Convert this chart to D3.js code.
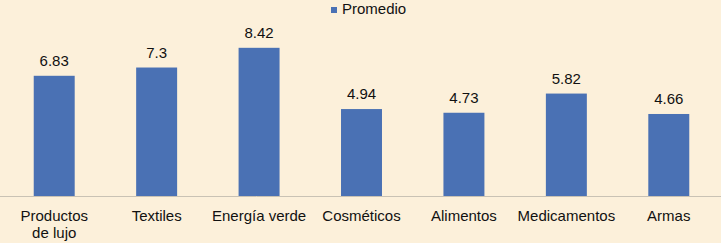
<!DOCTYPE html>
<html>
<head>
<meta charset="utf-8">
<script src="https://cdn.jsdelivr.net/npm/d3@7"></script>
<style>
  body { margin: 0; background: #fcf0da; }
  svg { display: block; font-family: "Liberation Sans", Arial, sans-serif; }
</style>
</head>
<body>
<div id="chart"></div>
<script>
// data
const categories = [["Productos", "de lujo"], ["Textiles"], ["Energía verde"], ["Cosméticos"], ["Alimentos"], ["Medicamentos"], ["Armas"]];
const promedio = [6.83, 7.3, 8.42, 4.94, 4.73, 5.82, 4.66];
const seriesName = "Promedio";

const width = 721;
const height = 243;
const baseline = 196;

const svg = d3.select("#chart")
    .append("svg")
    .attr("width", width)
    .attr("height", height);

svg.append("rect")
    .attr("width", width)
    .attr("height", height)
    .attr("fill", "#fcf0da");

const names = categories.map(c => c.join(" "));

const x = d3.scaleBand()
    .domain(names)
    .range([3, 720])
    .paddingInner(0.6)
    .paddingOuter(0.3);

const y = d3.scaleLinear()
    .domain([0, 10])
    .range([baseline, 20]);

// bars
svg.selectAll("rect.bar")
    .data(promedio)
    .enter()
    .append("rect")
    .attr("class", "bar")
    .attr("x", (d, i) => x(names[i]))
    .attr("y", d => y(d))
    .attr("width", x.bandwidth())
    .attr("height", d => baseline - y(d))
    .attr("fill", "#4a71b4");

// axis line
const xAxis = svg.append("g")
    .attr("transform", `translate(0, ${baseline})`)
    .call(d3.axisBottom(x).tickSize(0).tickFormat(""));
xAxis.select(".domain").attr("stroke", "#c9c2b4").attr("d", `M0,0.5H${width}`);

// value labels
svg.selectAll("text.value")
    .data(promedio)
    .enter()
    .append("text")
    .attr("class", "value")
    .attr("x", (d, i) => x(names[i]) + x.bandwidth() / 2)
    .attr("y", d => y(d) - 10)
    .attr("text-anchor", "middle")
    .attr("font-size", 15)
    .attr("fill", "#111")
    .text(d => d);

// category labels
const catLabels = svg.selectAll("text.cat")
    .data(categories)
    .enter()
    .append("text")
    .attr("class", "cat")
    .attr("text-anchor", "middle")
    .attr("font-size", 15)
    .attr("fill", "#111")
    .attr("transform", (d, i) => `translate(${x(names[i]) + x.bandwidth() / 2}, 221)`);

catLabels.selectAll("tspan")
    .data(d => d)
    .enter()
    .append("tspan")
    .attr("x", 0)
    .attr("dy", (d, i) => i === 0 ? 0 : 17)
    .text(d => d);

// legend
const legend = svg.append("g").attr("transform", "translate(331, 0)");
legend.append("rect")
    .attr("x", 0)
    .attr("y", 7)
    .attr("width", 6)
    .attr("height", 6)
    .attr("fill", "#4a71b4");
legend.append("text")
    .attr("x", 11)
    .attr("y", 14)
    .attr("font-size", 15)
    .attr("fill", "#111")
    .text(seriesName);
</script>
</body>
</html>
